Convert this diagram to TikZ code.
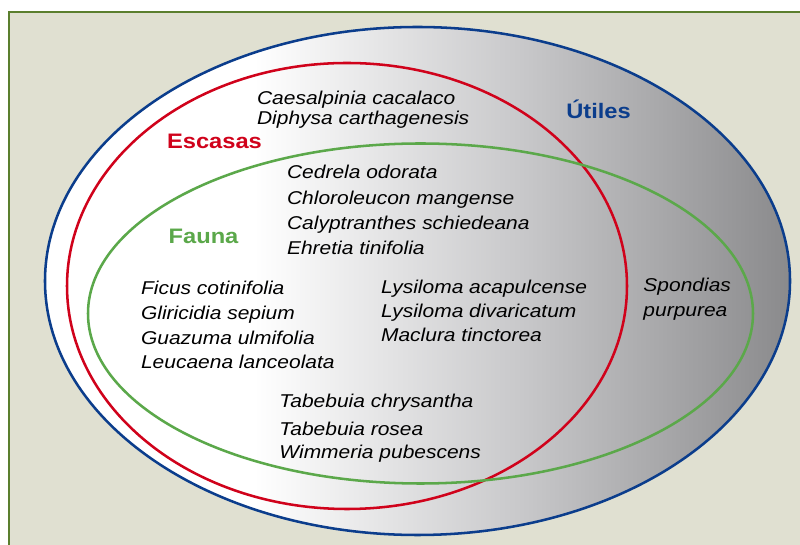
\documentclass[tikz,border=0pt]{standalone}
\usepackage{fontspec}
\setmainfont{Liberation Sans}[FakeStretch=1.13]
\usepackage{tikz}
\definecolor{marco}{HTML}{5B7F2E}
\definecolor{fondo}{HTML}{E0E0D1}
\definecolor{azul}{HTML}{0B3D8C}
\definecolor{rojo}{HTML}{D0021B}
\definecolor{verde}{HTML}{5BA84A}
\definecolor{grisA}{HTML}{C8C8CA}
\definecolor{grisB}{HTML}{8A8A8C}
\pgfdeclarehorizontalshading{utiles}{100bp}{color(0bp)=(white); color(39bp)=(white); color(57bp)=(grisA); color(75bp)=(grisB); color(100bp)=(grisB)}
\tikzset{
  especie/.style={anchor=base west, inner sep=0pt, text=black, font=\fontsize{13.2}{15}\selectfont\itshape},
  grupo/.style={anchor=base west, inner sep=0pt, font=\fontsize{14.9}{17}\selectfont\bfseries},
  borde/.style={line width=1.8pt}
}

\begin{document}
\begin{tikzpicture}
				\clip (0,0) rectangle (20,13.625);
				% marco
				\draw[line width=1pt, draw=marco, fill=fondo] (0.225,-1) rectangle (21,13.325);
				
				% conjuntos
				\shade[shading=utiles] (10.4375,6.6) ellipse (9.3125 and 6.35);
				\draw[borde, azul] (10.4375,6.6) ellipse (9.3125 and 6.35);
				\draw[borde, rojo] (8.675,6.475) ellipse (7.0 and 5.575);
				\draw[borde, verde] (10.5125,5.7875) ellipse (8.3125 and 4.25);
				
				\node[grupo, text=azul] (utiles) at (14.15,10.65) {Útiles};
				\node[grupo, text=rojo] (escasas) at (4.17,9.92) {Escasas};
				\node[grupo, text=verde] (fauna) at (4.21,7.54) {Fauna};
				
				% utiles y escasas
				\node[especie] (caesalpinia) at (6.42,11.0) {Caesalpinia cacalaco};
				\node[especie] (diphysa) at (6.42,10.5) {Diphysa carthagenesis};
				
				% las tres
				\node[especie] (cedrela) at (7.17,9.17) {Cedrela odorata};
				\node[especie] (chloroleucon) at (7.17,8.5) {Chloroleucon mangense};
				\node[especie] (calyptranthes) at (7.17,7.875) {Calyptranthes schiedeana};
				\node[especie] (ehretia) at (7.17,7.25) {Ehretia tinifolia};
				
				\node[especie] (ficus) at (3.52,6.25) {Ficus cotinifolia};
				\node[especie] (gliricidia) at (3.52,5.625) {Gliricidia sepium};
				\node[especie] (guazuma) at (3.52,5.0) {Guazuma ulmifolia};
				\node[especie] (leucaena) at (3.52,4.42) {Leucaena lanceolata};
				
				\node[especie] (acapulcense) at (9.52,6.29) {Lysiloma acapulcense};
				\node[especie] (divaricatum) at (9.52,5.69) {Lysiloma divaricatum};
				\node[especie] (maclura) at (9.52,5.08) {Maclura tinctorea};
				
				\node[especie] (chrysantha) at (6.98,3.43) {Tabebuia chrysantha};
				\node[especie] (rosea) at (6.98,2.73) {Tabebuia rosea};
				\node[especie] (wimmeria) at (6.98,2.17) {Wimmeria pubescens};
				
				% utiles y fauna
				\node[especie] (spondias) at (16.08,6.33) {Spondias};
				\node[especie] (purpurea) at (16.08,5.71) {purpurea};
			\end{tikzpicture}
\end{document}
